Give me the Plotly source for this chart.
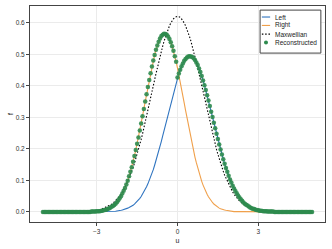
import numpy as np
import plotly.graph_objects as go

# velocity grid (evenly spaced sample points, -5 .. 5 step 0.05)
u = np.round(np.arange(-100, 101) * 0.05, 2)

# "Right" distribution (u = -5.00 ... 5.00)
right_f = ([0.0] * 36 + [
    0.001, 0.001, 0.001, 0.001, 0.002, 0.002, 0.002, 0.003, 0.004, 0.005,
    0.006, 0.007, 0.009, 0.011, 0.013, 0.016, 0.019, 0.022, 0.026, 0.031,
    0.037, 0.043, 0.050, 0.058, 0.067, 0.076, 0.087, 0.099, 0.113, 0.127,
    0.142, 0.159, 0.177, 0.196, 0.216, 0.236, 0.258, 0.280, 0.303, 0.326,
    0.350, 0.373, 0.396, 0.418, 0.440, 0.461, 0.480, 0.498, 0.514, 0.528,
    0.540, 0.550, 0.558, 0.562, 0.565, 0.564, 0.562, 0.556, 0.548, 0.538,
    0.525, 0.511, 0.494, 0.476, 0.456, 0.436, 0.414, 0.391, 0.368, 0.345,
    0.322, 0.299, 0.276, 0.254, 0.232, 0.212, 0.192, 0.173, 0.156, 0.139,
    0.124, 0.110, 0.097, 0.085, 0.074, 0.065, 0.056, 0.048, 0.041, 0.035,
    0.030, 0.025, 0.021, 0.018, 0.015, 0.012, 0.010, 0.008, 0.007, 0.006,
    0.005, 0.004, 0.003, 0.002, 0.002, 0.002, 0.001, 0.001, 0.001, 0.001,
] + [0.0] * 55)

# "Left" distribution
left_f = ([0.0] * 47 + [
    0.001, 0.001, 0.001, 0.001, 0.001, 0.002, 0.002, 0.002, 0.003, 0.003,
    0.004, 0.005, 0.006, 0.007, 0.008, 0.010, 0.012, 0.014, 0.016, 0.018,
    0.021, 0.025, 0.029, 0.033, 0.038, 0.043, 0.049, 0.056, 0.063, 0.071,
    0.080, 0.089, 0.099, 0.110, 0.122, 0.134, 0.148, 0.162, 0.176, 0.192,
    0.207, 0.224, 0.241, 0.258, 0.276, 0.293, 0.311, 0.329, 0.346, 0.363,
    0.380, 0.396, 0.411, 0.426, 0.439, 0.451, 0.462, 0.471, 0.479, 0.485,
    0.490, 0.493, 0.494, 0.493, 0.491, 0.487, 0.482, 0.474, 0.466, 0.455,
    0.444, 0.431, 0.417, 0.402, 0.387, 0.370, 0.353, 0.336, 0.318, 0.301,
    0.283, 0.265, 0.248, 0.231, 0.214, 0.198, 0.182, 0.167, 0.153, 0.139,
    0.127, 0.115, 0.103, 0.093, 0.083, 0.074, 0.066, 0.059, 0.052, 0.046,
    0.040, 0.035, 0.030, 0.026, 0.023, 0.020, 0.017, 0.014, 0.012, 0.010,
    0.009, 0.007, 0.006, 0.005, 0.004, 0.004, 0.003, 0.002, 0.002, 0.002,
    0.001, 0.001, 0.001, 0.001, 0.001,
] + [0.0] * 29)

# Maxwellian (equilibrium)
maxwell_f = ([0.0] * 28 + [
    0.001, 0.001,
    0.001, 0.001, 0.001, 0.001, 0.002, 0.002, 0.002, 0.003, 0.003, 0.004,
    0.005, 0.005, 0.006, 0.008, 0.009, 0.010, 0.012, 0.014, 0.016, 0.018,
    0.021, 0.024, 0.027, 0.031, 0.035, 0.040, 0.045, 0.050, 0.056, 0.063,
    0.071, 0.079, 0.087, 0.097, 0.107, 0.117, 0.129, 0.141, 0.154, 0.168,
    0.183, 0.198, 0.214, 0.230, 0.247, 0.265, 0.283, 0.302, 0.321, 0.341,
    0.360, 0.380, 0.399, 0.419, 0.438, 0.457, 0.475, 0.493, 0.510, 0.526,
    0.541, 0.555, 0.568, 0.580, 0.590, 0.599, 0.607, 0.612, 0.617, 0.619,
    0.620,
    0.619, 0.617, 0.612, 0.607, 0.599, 0.590, 0.580, 0.568, 0.555, 0.541,
    0.526, 0.510, 0.493, 0.475, 0.457, 0.438, 0.419, 0.399, 0.380, 0.360,
    0.341, 0.321, 0.302, 0.283, 0.265, 0.247, 0.230, 0.214, 0.198, 0.183,
    0.168, 0.154, 0.141, 0.129, 0.117, 0.107, 0.097, 0.087, 0.079, 0.071,
    0.063, 0.056, 0.050, 0.045, 0.040, 0.035, 0.031, 0.027, 0.024, 0.021,
    0.018, 0.016, 0.014, 0.012, 0.010, 0.009, 0.008, 0.006, 0.005, 0.005,
    0.004, 0.003, 0.003, 0.002, 0.002, 0.002, 0.001, 0.001, 0.001, 0.001,
    0.001, 0.001,
] + [0.0] * 28)

right_f = np.array(right_f)
left_f = np.array(left_f)
maxwell_f = np.array(maxwell_f)

# reconstructed: right state for u<0, left state for u>=0
recon_f = np.where(u < 0, right_f, left_f)

x_ticks = [-3, 0, 3]
y_ticks = [0.0, 0.1, 0.2, 0.3, 0.4, 0.5, 0.6]
legend_names = ["Left", "Right", "Maxwellian", "Reconstructed"]

BLUE = "#2f74c0"
ORANGE = "#f0a04b"
GREEN = "#2e8b4e"
FRAME = "#444444"
FONT = "Liberation Sans"

fig = go.Figure()
fig.add_trace(go.Scatter(x=u, y=left_f, mode="lines", name=legend_names[0],
                         line=dict(color=BLUE, width=1.1)))
fig.add_trace(go.Scatter(x=u, y=right_f, mode="lines", name=legend_names[1],
                         line=dict(color=ORANGE, width=1.1)))
fig.add_trace(go.Scatter(x=u, y=maxwell_f, mode="lines", name=legend_names[2],
                         line=dict(color="black", width=1.1, dash="1.5px,1.8px")))
fig.add_trace(go.Scatter(x=u, y=recon_f, mode="markers", name=legend_names[3],
                         marker=dict(color=GREEN, size=4.5, opacity=0.9,
                                     line=dict(width=0))))

axis_common = dict(
    showline=True, linecolor=FRAME, linewidth=1, mirror=True,
    showgrid=True, gridcolor="#ebebeb", gridwidth=1,
    zeroline=False, ticks="outside", ticklen=3, tickcolor=FRAME,
    tickfont=dict(size=6.5, color="#333333", family=FONT),
    automargin=False,
)

# compact framed legend (top-right, inside the axes)
leg_x0, leg_x1, leg_y0, leg_y1 = 0.780, 0.986, 0.782, 0.981
row_y = [0.949, 0.910, 0.870, 0.831]
sample_x0, sample_x1, text_x = 0.786, 0.814, 0.824
shapes = [dict(type="rect", xref="paper", yref="paper",
               x0=leg_x0, x1=leg_x1, y0=leg_y0, y1=leg_y1,
               line=dict(color=FRAME, width=1), fillcolor="white", layer="above")]
sample_styles = [dict(color=BLUE, width=1.1), dict(color=ORANGE, width=1.1),
                 dict(color="black", width=1.1, dash="1.5px,1.8px")]
for yy, st in zip(row_y[:3], sample_styles):
    shapes.append(dict(type="line", xref="paper", yref="paper",
                       x0=sample_x0, x1=sample_x1, y0=yy, y1=yy,
                       line=st, layer="above"))
mx = (sample_x0 + sample_x1) / 2
shapes.append(dict(type="circle", xref="paper", yref="paper",
                   x0=mx - 0.0068, x1=mx + 0.0068,
                   y0=row_y[3] - 0.0093, y1=row_y[3] + 0.0093,
                   fillcolor=GREEN, line=dict(width=0), layer="above"))
annotations = [dict(text=name, xref="paper", yref="paper", x=text_x, y=yy,
                    xanchor="left", yanchor="middle", showarrow=False,
                    font=dict(size=6.5, family=FONT, color="#222222"))
               for name, yy in zip(legend_names, row_y)]

fig.update_layout(
    width=332, height=249,
    margin=dict(l=30, r=7, t=6, b=27),
    paper_bgcolor="white", plot_bgcolor="white",
    font=dict(family=FONT, size=7, color="#222222"),
    xaxis=dict(range=[-5.48, 5.48], tickvals=x_ticks,
               title=dict(text="u", font=dict(size=7, color="#222222"), standoff=4),
               **axis_common),
    yaxis=dict(range=[-0.032, 0.653], tickvals=y_ticks, tickformat=".1f",
               title=dict(text="f", font=dict(size=7, color="#222222"), standoff=1),
               **axis_common),
    shapes=shapes,
    annotations=annotations,
    showlegend=False,
)

fig.write_html("out.html",
               config={"displayModeBar": False},
               post_script="document.body.style.margin='0';"
                           "document.body.style.overflow='hidden';")
